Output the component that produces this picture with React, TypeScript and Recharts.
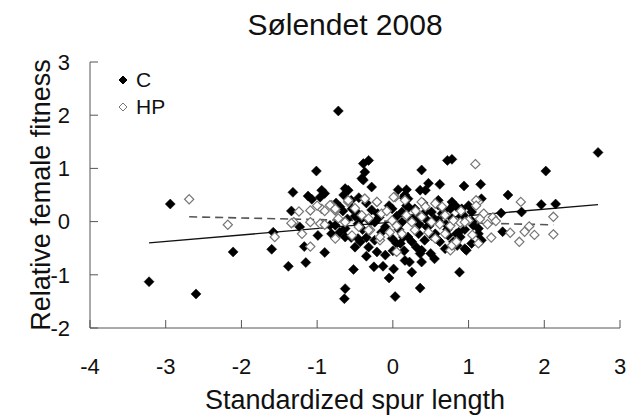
import { ScatterChart, Scatter, XAxis, YAxis, ReferenceLine, Legend, Label } from 'recharts'

const xTicks = [-4, -3, -2, -1, 0, 1, 2, 3]
const yTicks = [-2, -1, 0, 1, 2, 3]

// C plants (filled diamonds)
const cPoints: [number, number][] = [
  [-3.22, -1.13], [-2.94, 0.33], [-2.6, -1.36], [-2.11, -0.57], [-1.58, -0.2], [-1.6, -0.52],
  [-1.38, -0.84], [-1.15, -0.77], [-1.17, -0.47], [-0.9, -0.58], [-0.99, -0.26], [-1.23, -0.1],
  [-1.34, 0.2], [-1.32, 0.55], [-1.12, 0.48], [-1.07, 0.42], [-0.94, 0.59], [-0.9, 0.53],
  [-0.96, 0.46], [-1.01, 0.95], [-0.72, 2.08], [-0.63, 0.62], [-0.59, 0.59], [-0.65, 0.5],
  [-0.39, 1.09], [-0.37, 0.93], [-0.41, 0.81], [-0.39, 0.78], [-0.32, 1.15], [-0.28, 0.65],
  [-0.83, -0.07], [-0.63, -1.26], [-0.64, -1.45], [-0.52, -0.9],
  [0.38, 0.97], [0.72, 1.15], [0.78, 1.17], [0.47, 0.72], [0.36, 0.59], [0.43, 0.59],
  [0.62, 0.7], [0.94, 0.67], [1.16, 0.7], [0.07, 0.6], [0.18, 0.6], [0.16, 0.5],
  [0.6, 0.4], [0.8, 0.31], [0.76, 0.24], [1.17, 0.43],
  [0.03, -1.41], [0.36, -1.25], [-0.05, -1.06], [0.88, -0.95], [0.97, -0.54], [-0.13, -0.84],
  [0.01, -0.89], [0.16, -0.73], [0.22, -0.76], [0.38, -0.76], [0.36, -0.6], [-0.21, -0.57],
  [-0.1, -0.63], [-0.32, -0.48], [0.62, -0.38], [0.69, -0.51], [1.17, -0.35], [1.13, -0.23],
  [-0.43, -0.38], [0.1, -0.41], [0.14, -0.29], [0.31, -0.48], [0.38, -0.54], [0.56, -0.23],
  [0.45, -0.1], [0.84, -0.23], [0.89, -0.29], [1.06, -0.07], [1.13, -0.13],
  [2.71, 1.3], [2.02, 0.95], [1.52, 0.5], [1.96, 0.32], [2.15, 0.33], [1.43, 0.16],
  [1.7, 0.18], [1.45, -0.19],
  [0.14, 0.46], [0.2, 0.43], [-0.54, 0.24], [-0.48, 0.18], [-0.01, 0.24], [0.12, 0.18],
  [0.21, 0.27], [0.29, 0.24], [0.43, 0.18], [0.51, 0.18], [0.6, 0.31], [0.78, 0.37],
  [0.84, 0.28], [0.91, 0.24], [1.04, 0.18],
  [-0.76, -0.07], [-0.63, -0.13], [-0.46, -0.04], [-0.24, -0.01], [-0.1, -0.1], [0.12, -0.01],
  [0.29, 0.02], [0.43, 0.06], [0.6, 0.02], [0.78, 0.06], [0.95, 0.09],
  [-0.81, -0.23], [-0.63, -0.29], [-0.46, -0.32], [-0.5, -0.48], [-0.24, -0.35], [-0.01, -0.32],
  [0.05, -0.41], [0.2, -0.29], [0.25, -0.38], [0.34, -0.23], [0.51, -0.26], [0.6, -0.35],
  [0.73, -0.26], [0.8, -0.38], [0.87, -0.2], [0.95, -0.51], [1.04, -0.41],
  [-0.75, 0.35], [-0.7, 0.28], [-0.55, 0.4], [-0.45, 0.45], [-0.35, 0.35], [-0.5, 0.1],
  [-0.6, 0.05], [-0.7, -0.2], [-0.55, -0.3], [-0.4, -0.15], [-0.3, 0.0], [-0.2, 0.15],
  [-0.15, -0.2], [-0.05, 0.3], [0.05, 0.1], [0.25, 0.05], [0.35, -0.05], [0.55, 0.05],
  [0.65, 0.15], [0.7, -0.05], [0.9, 0.1], [1.0, 0.3], [1.05, 0.0], [0.5, -0.6],
  [0.25, -0.95], [-0.25, -0.85], [-0.35, -0.65], [0.0, -0.55], [0.55, -0.7], [0.85, -0.45],
  [-0.42, 0.05], [-0.18, 0.08], [0.08, -0.15], [0.32, 0.12], [0.48, -0.08], [0.68, 0.22],
  [-0.66, 0.2], [-0.28, 0.22], [0.18, 0.3], [0.4, 0.35], [0.72, -0.15], [0.95, -0.15],
  [-0.35, -0.3], [0.15, -0.55], [0.42, -0.35],
]

// HP plants (open diamonds)
const hpPoints: [number, number][] = [
  [-2.69, 0.42], [-2.18, -0.06], [-1.56, -0.29], [-1.24, 0.19], [-1.09, 0.21], [-0.94, 0.24],
  [-0.9, 0.2], [-0.81, 0.31], [-0.76, 0.21], [-0.59, 0.37], [-1.31, -0.01], [-1.09, -0.01],
  [-0.96, -0.04], [-1.34, -0.03], [-1.09, -0.47], [-1.2, -0.23], [-0.9, -0.06], [-1.0, 0.3],
  [0.03, 0.46], [-0.21, 0.37], [-0.37, 0.43], [1.09, 1.08], [1.13, 0.37], [0.76, -0.54],
  [0.82, -0.41], [1.13, -0.41], [0.05, -0.57], [-0.17, -0.35], [-0.3, -0.16], [0.62, -0.05],
  [0.76, -0.08], [0.89, -0.02], [1.0, 0.02], [1.1, 0.4], [1.1, 0.3],
  [1.69, 0.37], [2.12, 0.09], [1.32, 0.08], [1.36, 0.01], [1.8, -0.09], [1.55, -0.21],
  [1.74, -0.19], [1.87, -0.25], [2.12, -0.24], [1.67, -0.38],
  [-0.83, 0.31], [-0.76, 0.24], [-0.59, 0.4], [-0.37, 0.43], [-0.21, 0.37], [0.01, 0.46],
  [0.16, 0.4], [0.38, 0.37], [0.43, 0.28], [0.56, 0.34], [0.65, 0.28],
  [-0.72, 0.06], [-0.63, -0.01], [-0.41, 0.12], [-0.32, 0.06], [-0.15, 0.15], [-0.01, 0.02],
  [0.18, 0.12], [0.25, -0.01], [0.38, 0.09], [0.51, -0.01], [0.69, 0.12], [0.8, 0.02],
  [0.95, -0.01],
  [-0.76, -0.32], [-0.54, -0.26], [-0.32, -0.16], [-0.17, -0.29], [-0.04, -0.2], [0.12, -0.23],
  [0.29, -0.16], [0.47, -0.2], [0.56, -0.32], [0.69, -0.23], [0.78, -0.45], [0.84, -0.38],
  [1.2, 0.15], [1.25, -0.05], [1.05, -0.25], [1.3, -0.3], [1.15, 0.05],
  [-0.5, 0.25], [-0.08, 0.2], [0.3, 0.2], [0.05, -0.08], [-0.45, -0.1], [0.9, 0.2],
]

// fitted lines (end points)
const cFitX = [-3.22, 2.71]
const cFitY = [-0.4, 0.32]
const hpFitX = [-2.69, 2.12]
const hpFitY = [0.09, -0.06]

const cData = cPoints.map(([x, y]) => ({ x, y }))
const hpData = hpPoints.map(([x, y]) => ({ x, y }))

const font = 'Arial, "Liberation Sans", sans-serif'

function Diamond(props: any) {
  const { cx, cy, filled } = props
  if (cx == null || cy == null) return null
  const r = filled ? 5 : 4.6
  return (
    <polygon
      points={`${cx},${cy - r} ${cx + r},${cy} ${cx},${cy + r} ${cx - r},${cy}`}
      fill={filled ? '#000' : '#fff'}
      stroke={filled ? '#000' : '#767676'}
      strokeWidth={filled ? 0.5 : 1.2}
    />
  )
}

function LegendBox() {
  const rows = [
    { name: 'C', filled: true },
    { name: 'HP', filled: false },
  ]
  return (
    <div style={{ fontFamily: font, fontSize: 21, color: '#111' }}>
      {rows.map((r) => (
        <div key={r.name} style={{ display: 'flex', alignItems: 'center', height: 27 }}>
          <svg width={14} height={14} style={{ marginRight: 6 }}>
            <polygon
              points="7,3 11,7 7,11 3,7"
              fill={r.filled ? '#000' : '#fff'}
              stroke={r.filled ? '#000' : '#767676'}
              strokeWidth={1}
            />
          </svg>
          <span>{r.name}</span>
        </div>
      ))}
    </div>
  )
}

export default function App() {
  return (
    <div style={{ position: 'absolute', left: 0, top: 0, width: 626, height: 416, background: '#fff', fontFamily: font }}>
      <div
        style={{
          position: 'absolute', left: 0, top: 10, width: 690, textAlign: 'center',
          fontSize: 30, lineHeight: '30px', color: '#111',
        }}
      >
        Sølendet 2008
      </div>
      <ScatterChart
        width={626}
        height={416}
        margin={{ top: 62, right: 6, bottom: 0, left: 0 }}
        style={{ fontFamily: font }}
      >
        <XAxis
          type="number"
          dataKey="x"
          domain={[-4, 3]}
          ticks={xTicks}
          height={88}
          tickSize={-8}
          tickMargin={38}
          stroke="#555"
          tick={{ fill: '#111', fontSize: 22 }}
          allowDataOverflow
        >
          <Label value="Standardized spur length" position="insideBottom" offset={7} fill="#111" fontSize={27} />
        </XAxis>
        <YAxis
          type="number"
          dataKey="y"
          domain={[-2, 3]}
          ticks={yTicks}
          width={90}
          tickSize={-8}
          tickMargin={28}
          stroke="#555"
          tick={{ fill: '#111', fontSize: 22 }}
          allowDataOverflow
        >
          <Label
            value="Relative female fitness"
            angle={-90}
            position="insideLeft"
            offset={40}
            fill="#111"
            fontSize={27}
            style={{ textAnchor: 'middle' }}
          />
        </YAxis>
        <Legend
          layout="horizontal"
          verticalAlign="middle"
          align="center"
          content={() => <LegendBox />}
          wrapperStyle={{ left: 116, top: 66, width: 80 }}
        />
        <Scatter name="C" data={cData} shape={(p: any) => <Diamond {...p} filled />} isAnimationActive={false} />
        <Scatter name="HP" data={hpData} shape={(p: any) => <Diamond {...p} />} isAnimationActive={false} />
        <ReferenceLine
          segment={[{ x: cFitX[0], y: cFitY[0] }, { x: cFitX[1], y: cFitY[1] }]}
          stroke="#111"
          strokeWidth={1.3}
        />
        <ReferenceLine
          segment={[{ x: hpFitX[0], y: hpFitY[0] }, { x: hpFitX[1], y: hpFitY[1] }]}
          stroke="#555"
          strokeWidth={1.6}
          strokeDasharray="8 5"
        />
      </ScatterChart>
    </div>
  )
}
